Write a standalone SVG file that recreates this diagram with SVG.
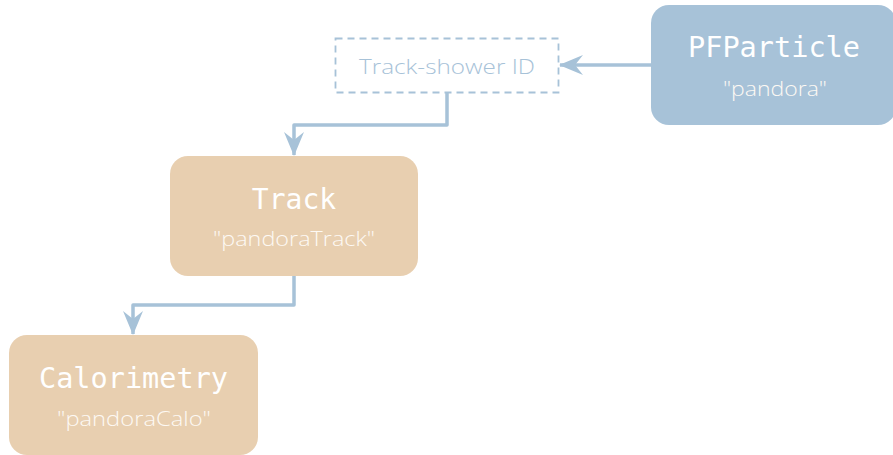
<svg xmlns="http://www.w3.org/2000/svg" width="893" height="455" viewBox="0 0 893 455">
<defs>
<style>
.blue{fill:#a7c2d8}
.tan{fill:#e8cfb0}
.title{font-family:"DejaVu Sans Mono","Liberation Mono",monospace;font-size:28px;fill:#ffffff;text-anchor:middle}
.sub{font-family:"Open Sans",Lato,sans-serif;font-weight:300;font-size:21px;fill:#fdf9f4;text-anchor:middle}
.edge{fill:none;stroke:#a7c2d8;stroke-width:3.5;stroke-linejoin:round}
</style>
<marker id="ah" viewBox="0 0 24 20" refX="23" refY="10" markerWidth="24" markerHeight="20" markerUnits="userSpaceOnUse" orient="auto">
<path d="M0,0 L24,10 L0,20 L8,10 Z" fill="#a7c2d8"/>
</marker>
</defs>
<rect width="893" height="455" fill="#ffffff"/>
<g id="connectors">
<path class="edge" d="M651,65 L560,65" marker-end="url(#ah)"/>
<path class="edge" d="M447,92 L447,125 L294,125 L294,155" marker-end="url(#ah)"/>
<path class="edge" d="M294,276 L294,305 L133,305 L133,334" marker-end="url(#ah)"/>
</g>
<g id="pfparticle">
<rect class="blue" x="651" y="5" width="245" height="120" rx="18"/>
<text class="title" x="774" y="57" textLength="172" lengthAdjust="spacingAndGlyphs">PFParticle</text>
<text class="sub" x="775" y="96" textLength="104" lengthAdjust="spacingAndGlyphs">"pandora"</text>
</g>
<g id="trackshower">
<rect x="335.5" y="38.5" width="223" height="54" fill="none" stroke="#a7c2d8" stroke-width="1.8" stroke-dasharray="7,5"/>
<text x="447" y="74" font-family="'Open Sans',Lato,sans-serif" font-weight="300" font-size="21" fill="#a7c2d8" text-anchor="middle" textLength="176" lengthAdjust="spacingAndGlyphs">Track-shower ID</text>
</g>
<g id="track">
<rect class="tan" x="170" y="156" width="248" height="120" rx="18"/>
<text class="title" x="294" y="209">Track</text>
<text class="sub" x="294" y="246" textLength="162" lengthAdjust="spacingAndGlyphs">"pandoraTrack"</text>
</g>
<g id="calorimetry">
<rect class="tan" x="9" y="335" width="249" height="120" rx="18"/>
<text class="title" x="133.5" y="388" textLength="189" lengthAdjust="spacingAndGlyphs">Calorimetry</text>
<text class="sub" x="134" y="426" textLength="154" lengthAdjust="spacingAndGlyphs">"pandoraCalo"</text>
</g>
</svg>
